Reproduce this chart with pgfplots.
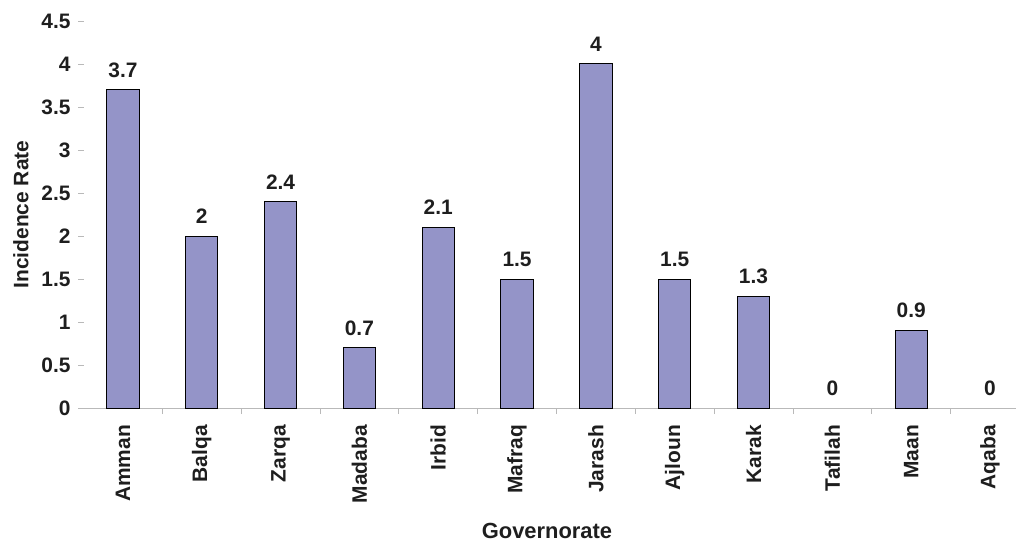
\documentclass[border=0pt]{standalone}
\usepackage{pgfplots}
\pgfplotsset{compat=1.18}
\usepackage{fontspec}
\setmainfont{Liberation Sans}
\definecolor{barfill}{RGB}{148,148,200}
\definecolor{txt}{RGB}{30,30,30}
\definecolor{axgray}{RGB}{185,185,185}
\newcommand{\lbl}{\fontsize{21}{24}\selectfont\bfseries}
\begin{document}
\begin{tikzpicture}
\begin{axis}[
  scale only axis,
  width=938bp, height=387bp,
  xmin=-0.57, xmax=11.33,
  ymin=0, ymax=4.5,
  ytick={0,0.5,...,4.5},
  xtick={0.5,1.5,...,10.5},
  xticklabels={},
  extra x ticks={0,...,11},
  extra x tick labels={Amman,Balqa,Zarqa,Madaba,Irbid,Mafraq,Jarash,Ajloun,Karak,Tafilah,Maan,Aqaba},
  extra x tick style={major tick length=0pt, tick style={draw=none}},
  x tick label style={rotate=90, anchor=east, font=\lbl, text=txt, inner sep=0pt},
  xticklabel shift=17bp,
  y tick label style={font=\lbl, text=txt},
  /pgf/number format/assume math mode=true,
  xtick align=outside,
  ytick align=inside,
  x tick style={draw=axgray, line width=0.8bp},
  y tick style={draw=axgray, line width=0.8bp},
  major tick length=6bp,
  axis x line*=bottom,
  axis y line*=left,
  x axis line style={draw=axgray, line width=0.8bp, -},
  y axis line style={draw=none},
  yticklabel style={xshift=-4bp},
  ylabel={Incidence Rate},
  ylabel style={font=\lbl, text=txt, yshift=6bp},
  xlabel={Governorate},
  xlabel style={font=\fontsize{22}{24}\selectfont\bfseries, text=txt, yshift=6bp},
  nodes near coords,
  every node near coord/.append style={font=\lbl, text=txt, anchor=south, inner sep=0pt, yshift=12bp},
  clip=false,
]
\addplot[ybar, bar width=0.41, fill=barfill, draw=black, line width=1bp] coordinates {
 (0,3.7) (1,2) (2,2.4) (3,0.7) (4,2.1) (5,1.5) (6,4) (7,1.5) (8,1.3) (10,0.9)};
\addplot[ybar, bar width=0.41, fill=none, draw=none] coordinates {(9,0) (11,0)};
\end{axis}
\pgfresetboundingbox
\path[use as bounding box] (-78bp,-134bp) rectangle (938bp,408bp);
\end{tikzpicture}
\end{document}
